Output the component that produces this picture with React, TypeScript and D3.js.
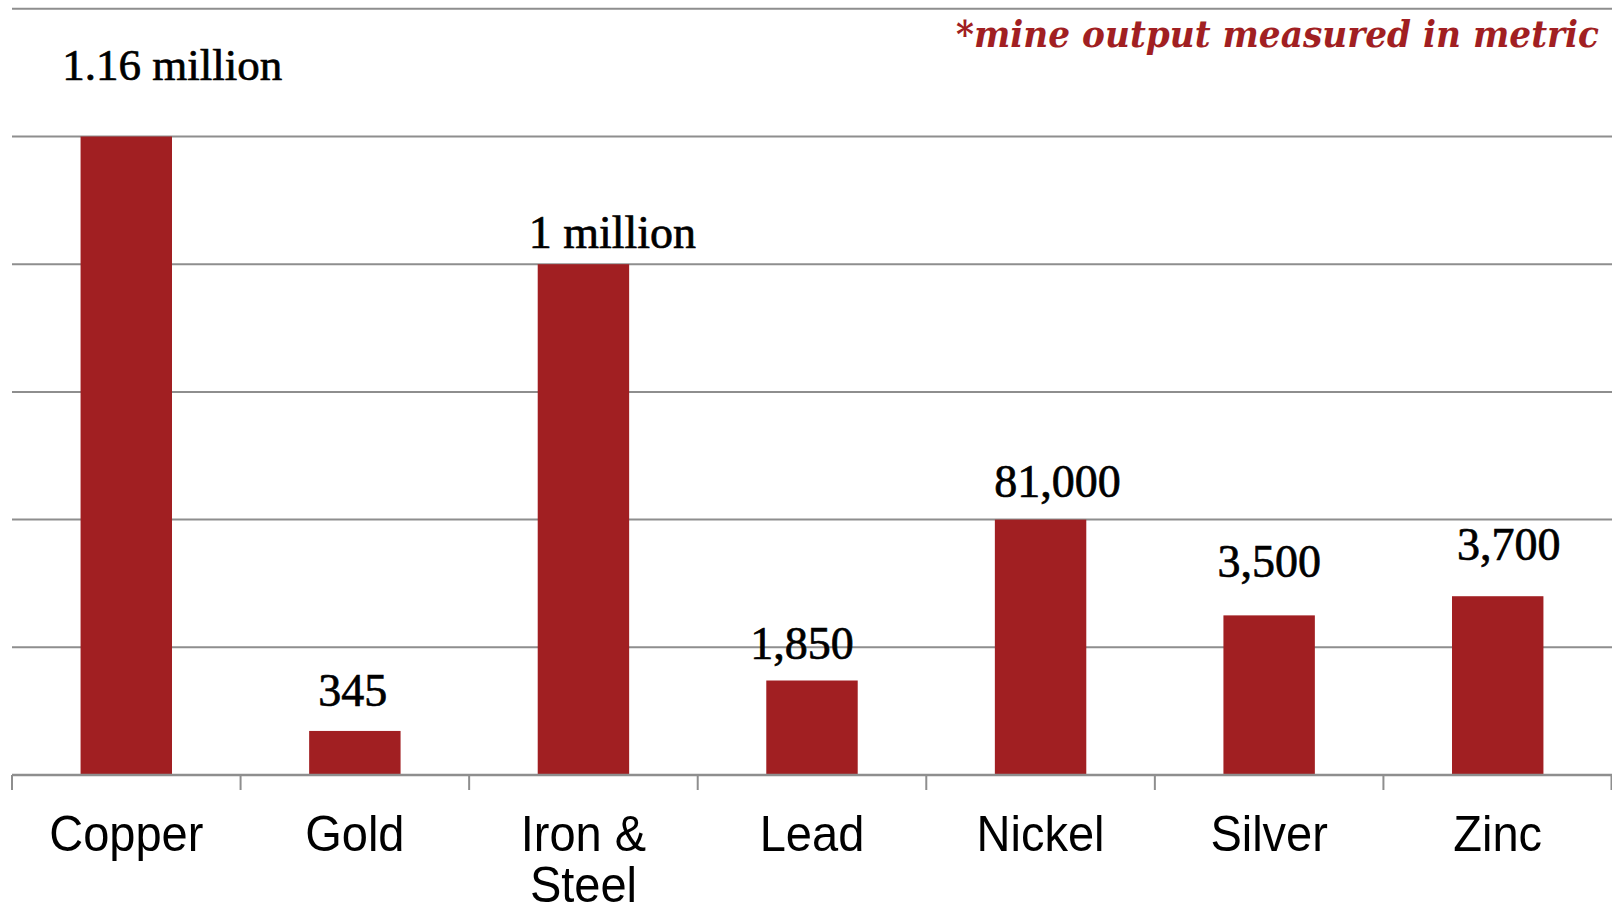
import React from "react";
import * as d3 from "d3";

const categories = ["Copper", "Gold", "Iron & Steel", "Lead", "Nickel", "Silver", "Zinc"];
const categoryLines = [["Copper"], ["Gold"], ["Iron &", "Steel"], ["Lead"], ["Nickel"], ["Silver"], ["Zinc"]];
const barValues = [50, 3.45, 40, 7.4, 20, 12.5, 14];
const valueLabels = ["1.16 million", "345", "1 million", "1,850", "81,000", "3,500", "3,700"];
const yTicks = [0, 10, 20, 30, 40, 50, 60];
const noteText = "*mine output measured in metric";

// label layout tweaks (pixels)
const labelDx = [46, -2, 29, -10, 17, 0, 11];
const labelLift = [57, 25, 16, 22, 23, 38, 36];

const W = 1612;
const H = 907;
const left = 12;
const right = 1612;
const yTop = 8.8;
const yBase = 775;
const barColor = "#a11f22";
const gridColor = "#8e8e8e";

export default function App() {
  const x = d3.scaleBand<string>().domain(categories).range([left, right]).paddingInner(0.6).paddingOuter(0.3);
  const y = d3.scaleLinear().domain([0, 60]).range([yBase, yTop]);
  const step = x.step();
  const bw = x.bandwidth();
  const boundaries = categories.map((c) => (x(c) as number) - (step - bw) / 2);
  boundaries.push(right - 0.5);

  return (
    <div style={{ position: "absolute", left: 0, top: 0 }}>
      <svg width={W} height={H} style={{ display: "block", background: "#fff" }}>
        {yTicks.map((t) => (
          <line key={t} x1={left} x2={right} y1={y(t)} y2={y(t)} stroke={gridColor} strokeWidth={2} />
        ))}
        {categories.map((c, i) => (
          <rect key={c} x={x(c)} y={y(barValues[i])} width={bw} height={yBase - y(barValues[i])} fill={barColor} />
        ))}
        <line x1={left} x2={right} y1={yBase} y2={yBase} stroke={gridColor} strokeWidth={2.5} />
        {boundaries.map((bx, i) => (
          <line key={i} x1={bx} x2={bx} y1={yBase} y2={yBase + 15} stroke={gridColor} strokeWidth={2} />
        ))}
        {categories.map((c, i) => (
          <text
            key={"v" + c}
            x={(x(c) as number) + bw / 2 + labelDx[i]}
            y={y(barValues[i]) - labelLift[i]}
            textAnchor="middle"
            fontFamily="'Liberation Serif', 'Times New Roman', serif"
            fontSize={i === 0 ? 45 : 46}
            fill="#000"
            stroke="#000"
            strokeWidth={0.7}
          >
            {valueLabels[i]}
          </text>
        ))}
        {categories.map((c, i) => {
          const cx = (x(c) as number) + bw / 2;
          return (
            <g key={"c" + c} transform={`translate(${cx},851) scale(1,1.07)`}>
              <text
                x={0}
                y={0}
                textAnchor="middle"
                fontFamily="'Liberation Sans', Arial, sans-serif"
                fontSize={47}
                fill="#000"
              >
                {categoryLines[i].map((ln, j) => (
                  <tspan key={j} x={0} dy={j === 0 ? 0 : 48}>
                    {ln}
                  </tspan>
                ))}
              </text>
            </g>
          );
        })}
        <text
          x={956}
          y={47}
          fontFamily="'DejaVu Serif', Georgia, serif"
          fontStyle="italic"
          fontWeight="bold"
          fontSize={37}
          fill={barColor}
          textLength={643}
          lengthAdjust="spacingAndGlyphs"
        >
          {noteText}
        </text>
      </svg>
    </div>
  );
}
